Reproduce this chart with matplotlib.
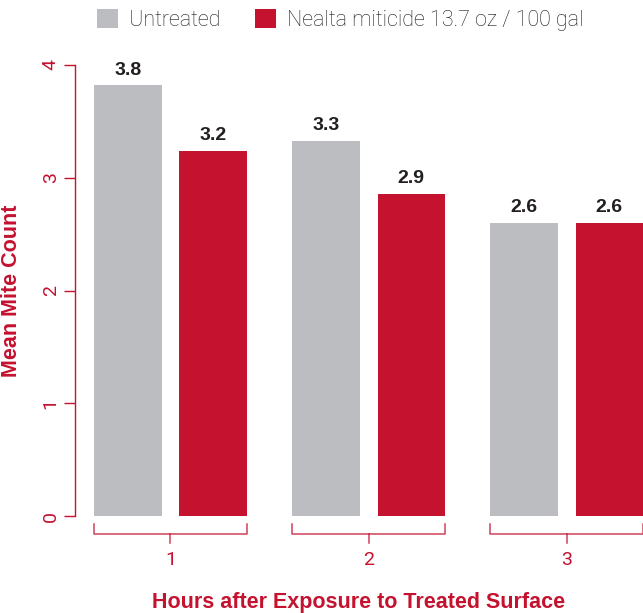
import matplotlib
matplotlib.use("Agg")
import matplotlib.pyplot as plt
from matplotlib.transforms import blended_transform_factory
import numpy as np

# ---------------------------------------------------------------------
# Data
# ---------------------------------------------------------------------
HOURS = [1, 2, 3]
UNTREATED = [3.82, 3.33, 2.60]
NEALTA = [3.24, 2.86, 2.60]
UNTREATED_LABELS = ["3.8", "3.3", "2.6"]
NEALTA_LABELS = ["3.2", "2.9", "2.6"]
SERIES_NAMES = ["Untreated", "Nealta miticide 13.7 oz / 100 gal"]

GRAY = "#BCBDC0"
RED = "#C4122F"
TEXT_DARK = "#231F20"
LIGHT = dict(family=["Roboto", "DejaVu Sans"], weight="light")
BOLD = dict(family=["Liberation Sans", "DejaVu Sans"], weight="bold")

fig = plt.figure(figsize=(6.43, 6.13), dpi=100)
ax = fig.add_axes([0.1166, 0.158, 0.8834, 0.736])

x = np.array(HOURS, dtype=float)
offset = 0.215
width = 0.34
b1 = ax.bar(x - offset, UNTREATED, width, color=GRAY, label=SERIES_NAMES[0])
b2 = ax.bar(x + offset, NEALTA, width, color=RED, label=SERIES_NAMES[1])

for bars, labels in ((b1, UNTREATED_LABELS), (b2, NEALTA_LABELS)):
    for rect, lab in zip(bars, labels):
        ax.text(rect.get_x() + rect.get_width() / 2, rect.get_height() + 0.06, lab,
                ha="center", va="bottom", fontsize=14, color=TEXT_DARK,
                clip_on=False, **BOLD)

ax.set_xlim(0.518, 3.385)
ax.set_ylim(0, 4)

# y axis: red spine with outward ticks and rotated labels
for s in ("top", "right", "bottom"):
    ax.spines[s].set_visible(False)
ax.spines["left"].set_color(RED)
ax.spines["left"].set_linewidth(1.0)
ax.set_yticks([0, 1, 2, 3, 4])
ax.tick_params(axis="y", colors=RED, length=8, width=1.0, pad=3)
for lab in ax.get_yticklabels():
    lab.set_rotation(90)
    lab.set_va("center")
    lab.set_fontsize(14)
    lab.set_family(LIGHT["family"])
    lab.set_weight("normal")

# x axis: brackets under each group
trans = blended_transform_factory(ax.transData, ax.transAxes)
y_top, y_br, y_tick = -0.018, -0.040, -0.060
for h in HOURS:
    left = h - offset - width / 2
    right = h + offset + width / 2
    ax.plot([left, left, right, right], [y_top, y_br, y_br, y_top],
            color=RED, lw=1.1, transform=trans, clip_on=False, alpha=0.8)
    ax.plot([h, h], [y_br, y_tick], color=RED, lw=1.1,
            transform=trans, clip_on=False, alpha=0.8)
ax.set_xticks(HOURS)
ax.set_xticklabels([str(h) for h in HOURS])
ax.tick_params(axis="x", length=0, colors=RED, pad=25)
for lab in ax.get_xticklabels():
    lab.set_fontsize(14)
    lab.set_family(LIGHT["family"])
    lab.set_weight("normal")

ax.set_xlabel("Hours after Exposure to Treated Surface", color=RED,
              fontsize=15.5, labelpad=17, **BOLD)
ax.set_ylabel("Mean Mite Count", color=RED, fontsize=15.5, labelpad=14, **BOLD)

leg = ax.legend(loc="center", bbox_to_anchor=(0.467, 1.1), ncol=2, frameon=False,
                handlelength=1.0, handleheight=1.0, handletextpad=0.5,
                columnspacing=1.6, borderaxespad=0, borderpad=0,
                prop=dict(size=15.5, family=LIGHT["family"], weight="light"))
for t in leg.get_texts():
    t.set_color("#1A1A1A")

fig.savefig("out.png", dpi=100)
